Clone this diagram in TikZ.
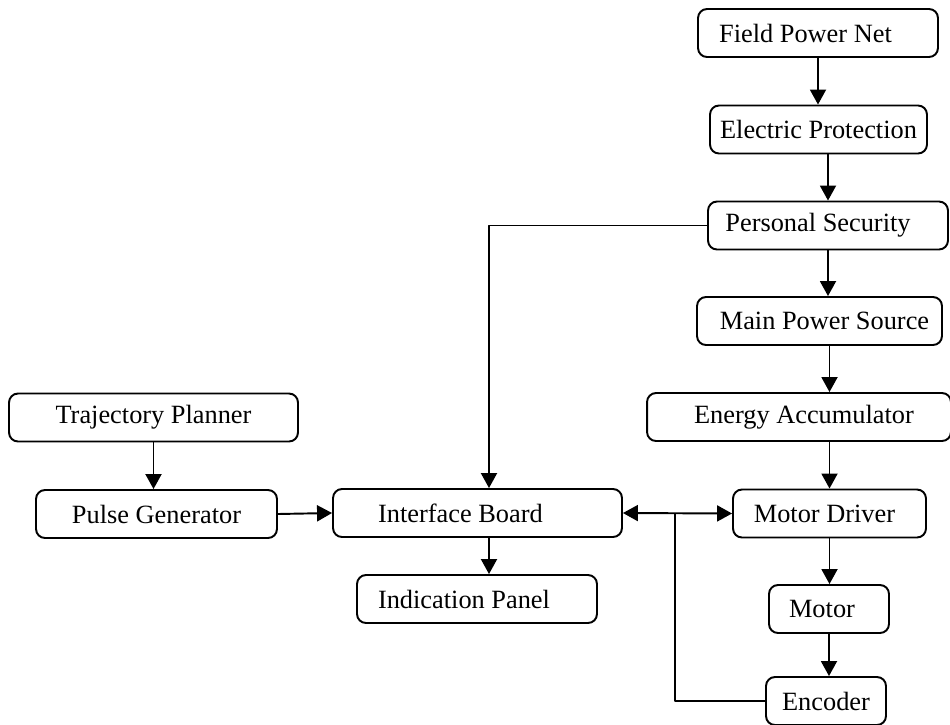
\documentclass[tikz,border=0pt]{standalone}
\usepackage{fontspec}
\setmainfont{Liberation Serif}
\usetikzlibrary{arrows.meta}
\tikzset{
	blk/.style={draw, rounded corners=0.18cm, line width=1.1pt, minimum height=0.96cm, inner sep=0pt},
}
\begin{document}
\begin{tikzpicture}[x=0.02cm, y=-0.02cm, >={Triangle[length=0.3cm,width=0.32cm]}, font=\fontsize{15}{18}\selectfont, line width=1.1pt, line join=round]
	\useasboundingbox (0,0) rectangle (950,724);
	% right column: power chain
	\node[blk, minimum width=4.8cm] (fpn) at (818,33) {\hspace*{-0.5cm}Field Power Net};
	\node[blk, minimum width=4.34cm] (ep) at (818.5,129.5) {Electric Protection};
	\node[blk, minimum width=4.8cm] (ps) at (828,225.5) {\hspace*{-0.4cm}Personal Security};
	\node[blk, minimum width=4.9cm] (mps) at (819.5,321) {\hspace*{0.2cm}Main Power Source};
	\node[blk, minimum width=6.08cm] (ea) at (799,417) {\hspace*{0.2cm}Energy Accumulator};
	\node[blk, minimum width=3.86cm] (md) at (829.5,513.5) {\hspace*{-0.2cm}Motor Driver};
	\node[blk, minimum width=2.4cm] (mot) at (829,609) {\hspace*{-0.28cm}Motor};
	\node[blk, minimum width=2.4cm] (enc) at (826,701) {Encoder};
	% middle
	\node[blk, minimum width=5.78cm] (ib) at (477.5,513) {\hspace*{-0.68cm}Interface Board};
	\node[blk, minimum width=4.8cm] (ip) at (477,599) {\hspace*{-0.52cm}Indication Panel};
	% left
	\node[blk, minimum width=5.78cm] (tp) at (153.5,417.5) {Trajectory Planner};
	\node[blk, minimum width=4.82cm] (pg) at (156.5,514) {Pulse Generator};
	\coordinate (jn) at (675,513);
	% connectors
	\draw[->] (fpn.south) -- (fpn.south |- ep.north);
	\draw[->] (ps.north |- ep.south) -- (ps.north);
	\draw[->] (ps.south) -- (ps.south |- mps.north);
	\draw[->] (md.north |- mps.south) -- (md.north |- ea.north);
	\draw[->] (md.north |- ea.south) -- (md.north);
	\draw[->] (md.south) -- (md.south |- mot.north);
	\draw[->] (mot.south) -- (mot.south |- enc.north);
	\draw[->] (ps.west) -| ([xshift=0.23cm]ib.north);
	\draw[->] ([xshift=0.23cm]ib.south) -- ([xshift=0.23cm]ib.south |- ip.north);
	\draw[->] (tp.south) -- (tp.south |- pg.north);
	\draw[->] (pg.east) -- (ib.west);
	\draw[<->] (ib.east) -- (md.west);
	\draw (enc.west) -| (jn);
\end{tikzpicture}
\end{document}
